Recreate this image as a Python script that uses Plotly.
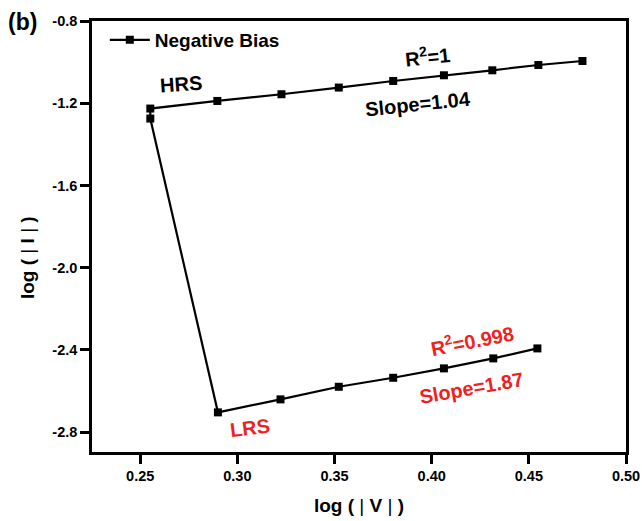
import plotly.graph_objects as go

# log(|V|) and log(|I|) for negative bias sweep: HRS branch then LRS branch
log_v = [0.4776, 0.4549, 0.4312, 0.4063, 0.3802, 0.3522, 0.3227, 0.2897, 0.2552, 0.2552,
         0.2900, 0.3222, 0.3522, 0.3802, 0.4063, 0.4317, 0.4544]
log_i = [-0.9945, -1.0140, -1.0398, -1.0641, -1.0918, -1.1238, -1.1564, -1.1890, -1.2260, -1.2746,
         -2.7042, -2.6410, -2.5797, -2.5359, -2.4902, -2.4416, -2.3930]

x_ticks = [0.25, 0.30, 0.35, 0.40, 0.45, 0.50]
y_ticks = [-0.8, -1.2, -1.6, -2.0, -2.4, -2.8]

FONT = "Liberation Sans"
RED = "#f21f1f"
THIN = "<span style='font-weight:normal'>|</span>"

fig = go.Figure()
fig.add_trace(go.Scatter(
    x=log_v, y=log_i, mode="lines+markers", name="Negative Bias",
    line=dict(color="black", width=2.2),
    marker=dict(symbol="square", size=8, color="black"),
))

axis_common = dict(
    showline=True, linecolor="black", linewidth=2.5, mirror=True,
    ticks="outside", ticklen=9, tickwidth=2.5, tickcolor="black",
    showgrid=False, zeroline=False, automargin=False,
    tickfont=dict(family=FONT, size=14.5, color="black", weight="bold"),
)

fig.update_layout(
    width=642, height=521,
    margin=dict(l=92, r=16, t=21, b=69),
    paper_bgcolor="white", plot_bgcolor="white",
    font=dict(family=FONT, color="black"),
    xaxis=dict(range=[0.2252, 0.50], tickvals=x_ticks,
               ticktext=[f"{v:.2f}" for v in x_ticks],
               title=dict(text=f"log ( {THIN} V {THIN} )", standoff=16,
                          font=dict(family=FONT, size=19, color="black", weight="bold")),
               **axis_common),
    yaxis=dict(range=[-2.897, -0.8], tickvals=y_ticks,
               ticktext=[f"{v:.1f}" for v in y_ticks],
               **axis_common),
    showlegend=True,
    legend=dict(x=0.024, y=1.0, xanchor="left", yanchor="top",
                bgcolor="rgba(0,0,0,0)", itemwidth=40,
                font=dict(family=FONT, size=19, color="black", weight="bold")),
)

ann = [
    dict(text="HRS", x=0.2711, y=-1.1044, color="black", angle=-4),
    dict(text="R<sup>2</sup>=1", x=0.3976, y=-0.9668, color="black", angle=-6),
    dict(text="Slope=1.04", x=0.3931, y=-1.2051, color="black", angle=-6),
    dict(text="R<sup>2</sup>=0.998", x=0.4206, y=-2.3493, color=RED, angle=-11),
    dict(text="Slope=1.87", x=0.4206, y=-2.5875, color=RED, angle=-10),
    dict(text="LRS", x=0.3063, y=-2.782, color=RED, angle=-7),
]
for a in ann:
    fig.add_annotation(x=a["x"], y=a["y"], xref="x", yref="y", text=a["text"],
                       showarrow=False, textangle=a["angle"],
                       font=dict(family=FONT, size=20, color=a["color"], weight="bold"))

# y-axis title placed as rotated text
fig.add_annotation(x=-0.122, y=0.452, xref="paper", yref="paper",
                   text=f"log ( {THIN} I {THIN} )", showarrow=False, textangle=-90,
                   xanchor="center", yanchor="middle",
                   font=dict(family=FONT, size=19, color="black", weight="bold"))

fig.add_annotation(x=-0.131, y=0.997, xref="paper", yref="paper", text="(b)",
                   showarrow=False, xanchor="center", yanchor="middle",
                   font=dict(family=FONT, size=23, color="black", weight="bold"))

fig.write_html("out.html", config={"displayModeBar": False},
               post_script="document.body.style.margin='0';document.body.style.overflow='hidden';")
